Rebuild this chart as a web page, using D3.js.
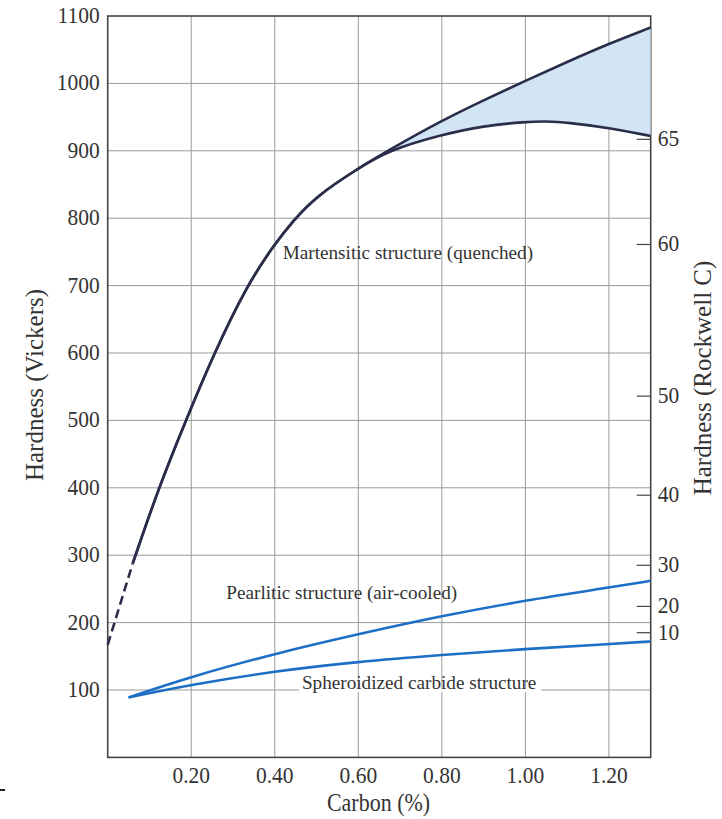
<!DOCTYPE html>
<html>
<head>
<meta charset="utf-8">
<script src="https://cdn.jsdelivr.net/npm/d3@7"></script>
<style>
  body { margin: 0; background: #fff; }
  text { font-family: "Liberation Serif", "DejaVu Serif", serif; fill: #333; }
</style>
</head>
<body>
<svg id="chart" width="722" height="819"></svg>
<script>
// data
const xTicks = [0.2, 0.4, 0.6, 0.8, 1.0, 1.2];
const yTicks = [100, 200, 300, 400, 500, 600, 700, 800, 900, 1000, 1100];

// martensitic (quenched) - dashed start, main rise, then the two branches
const carbonDash = [0.0, 0.06];
const martDash = [167, 288];
const carbonMart = [0.06, 0.122, 0.187, 0.255, 0.333, 0.4, 0.445, 0.5, 0.6, 0.67];
const martMain = [288, 400, 500, 600, 700, 762, 797, 833, 874, 900];
const carbonHigh = [0.67, 0.8, 0.9, 1.0, 1.1, 1.2, 1.3];
const martHigh = [900, 945, 975, 1004, 1032, 1059, 1083];
const carbonLow = [0.67, 0.8, 0.9, 1.0, 1.05, 1.1, 1.2, 1.3];
const martLow = [900, 924, 937, 943, 944, 942, 934, 922];

// pearlitic (air-cooled) and spheroidized carbide
const carbonP = [0.05, 0.2, 0.4, 0.6, 0.8, 1.0, 1.2, 1.3];
const pearlitic = [89, 120, 154, 183, 210, 233, 252, 262];
const spheroid = [89, 108, 128, 142, 152, 161, 168, 172];

// Rockwell C ticks and the Vickers value they sit at
const rcTicks = [65, 60, 50, 40, 30, 20, 10];
const rcVickers = [917, 761, 536, 389, 285, 224, 185];

//Chart Config
const margin = {top: 16, right: 71.3, bottom: 61.6, left: 107.7};
const width = 722 - margin.left - margin.right;
const height = 819 - margin.top - margin.bottom;
const stretch = 1.12; // the scan is a bit taller than wide

const svg = d3.select("#chart");
const g = svg.append("g").attr("transform", "translate(" + margin.left + "," + margin.top + ")");

const xScale = d3.scaleLinear().domain([0, 1.3]).range([0, width]);
const yScale = d3.scaleLinear().domain([0, 1100]).range([height, 0]);

function label(parent, x, y, str, size, anchor) {
  return parent.append("text")
    .attr("transform", "translate(" + x + "," + y + ") scale(1," + stretch + ")")
    .attr("text-anchor", anchor || "start")
    .attr("font-size", size)
    .text(str);
}

// grid
g.append("g").selectAll("line").data(xTicks).join("line")
  .attr("x1", d => xScale(d)).attr("x2", d => xScale(d))
  .attr("y1", 0).attr("y2", height)
  .attr("stroke", "#9a9a9a").attr("stroke-width", 1);
g.append("g").selectAll("line").data(yTicks.slice(0, -1)).join("line")
  .attr("x1", 0).attr("x2", width)
  .attr("y1", d => yScale(d)).attr("y2", d => yScale(d))
  .attr("stroke", "#9a9a9a").attr("stroke-width", 1);

// tick labels (the original has no tick marks on these axes)
xTicks.forEach(t => label(g, xScale(t), height + 26, t.toFixed(2), 21.5, "middle"));
yTicks.forEach(t => label(g, -8, yScale(t) + 7, t, 21.5, "end"));

// right Rockwell C axis
const rc = g.append("g").attr("transform", "translate(" + width + ",0)");
rcTicks.forEach((t, i) => {
  const y = yScale(rcVickers[i]);
  rc.append("line").attr("x1", -14).attr("x2", 0).attr("y1", y).attr("y2", y)
    .attr("stroke", "#444").attr("stroke-width", 1.2);
  label(rc, 7, y + 7, t, 21.5);
});

// frame
g.append("rect").attr("x", 0).attr("y", 0).attr("width", width).attr("height", height)
  .attr("fill", "none").attr("stroke", "#444").attr("stroke-width", 1.6);

const zip = (xs, ys) => xs.map((x, i) => [x, ys[i]]);
const line = d3.line().x(d => xScale(d[0])).y(d => yScale(d[1])).curve(d3.curveBasis);

const mainPts = zip(carbonMart, martMain);
const martUpper = mainPts.concat(zip(carbonHigh, martHigh).slice(1));
const martLower = mainPts.concat(zip(carbonLow, martLow).slice(1));

// shaded band between the martensite branches: upper path out, lower path back
const up = line(martUpper), low = line(martLower);
g.append("path").attr("d", up + " L" + xScale(1.3) + "," + yScale(martLow[martLow.length - 1]) +
    " " + d3.line().x(d => xScale(d[0])).y(d => yScale(d[1])).curve(d3.curveBasis)(martLower.slice().reverse()).slice(1) + " Z")
  .attr("fill", "#d2e5f5");

g.append("path").attr("d", line(zip(carbonDash, martDash)))
  .attr("fill", "none").attr("stroke", "#2b2e4a").attr("stroke-width", 2.6).attr("stroke-dasharray", "9,5");
[up, low].forEach(d => {
  g.append("path").attr("d", d)
    .attr("fill", "none").attr("stroke", "#2b2e4a").attr("stroke-width", 2.6);
});

[pearlitic, spheroid].forEach(vals => {
  g.append("path").attr("d", line(zip(carbonP, vals)))
    .attr("fill", "none").attr("stroke", "#1d6fc6").attr("stroke-width", 2.6);
});

// curve labels
g.append("text").attr("x", xScale(0.419)).attr("y", yScale(740)).attr("font-size", 19.2)
  .text("Martensitic structure (quenched)");
g.append("text").attr("x", xScale(0.284)).attr("y", yScale(235)).attr("font-size", 19.2)
  .text("Pearlitic structure (air-cooled)");
const sph = g.append("text").attr("x", xScale(0.465)).attr("y", yScale(100) - 1)
  .attr("font-size", 19.2).text("Spheroidized carbide structure");
const bb = sph.node().getBBox();
g.append("rect").attr("x", bb.x - 3).attr("y", yScale(100) - 2).attr("width", bb.width + 8).attr("height", 4)
  .attr("fill", "#fff");
sph.raise();

// axis titles
svg.append("text").attr("transform", "translate(43,385) rotate(-90)")
  .attr("text-anchor", "middle").attr("font-size", 25).text("Hardness (Vickers)");
svg.append("text").attr("transform", "translate(711,378) rotate(-90)")
  .attr("text-anchor", "middle").attr("font-size", 25).text("Hardness (Rockwell C)");
label(svg, 378.5, 811, "Carbon (%)", 22, "middle");

// stray mark at the lower left of the scan
svg.append("line").attr("x1", 0).attr("x2", 5).attr("y1", 790).attr("y2", 790)
  .attr("stroke", "#222").attr("stroke-width", 2);
</script>
</body>
</html>
